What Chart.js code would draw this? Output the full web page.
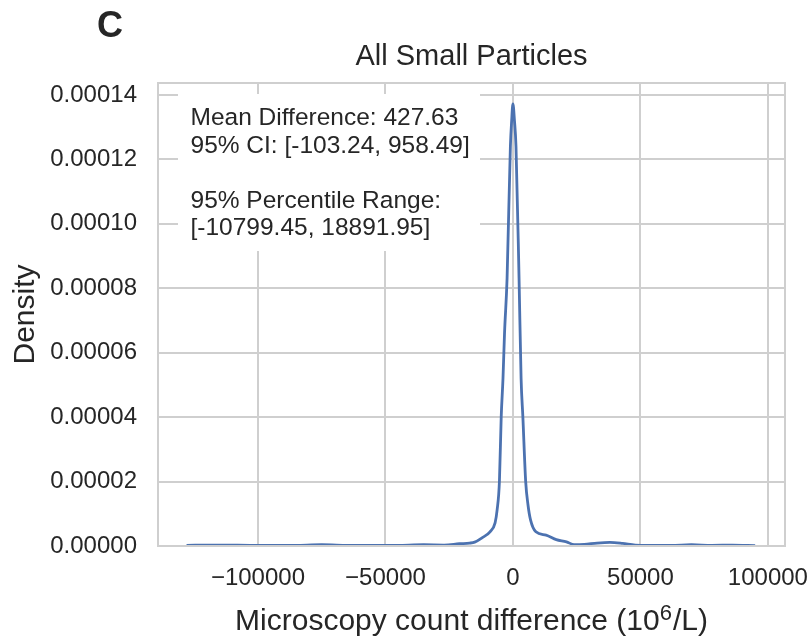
<!DOCTYPE html>
<html>
<head>
<meta charset="utf-8">
<script src="https://cdn.jsdelivr.net/npm/chart.js@4"></script>
<style>
  html, body { margin: 0; padding: 0; background: #ffffff; }
  #wrap { width: 812px; height: 636px; }
</style>
</head>
<body>
<div id="wrap"><canvas id="chart" width="812" height="636"></canvas></div>
<script>
// KDE of microscopy count differences
const DIFFS = [
  -128000, -118000, -108000, -95000, -85000, -75000, -65000, -55000, -45000,
  -35000, -27000, -21000, -17000, -15000, -12000, -9000, -7000, -6200, -5300,
  -4600, -3900, -3300, -2300, -1000, -500, 0, 600, 1200, 2400, 3200, 3900,
  5000, 5900, 6900, 9000, 13000, 17000, 21000, 24000, 28000, 33000, 38000,
  43000, 48000, 55000, 62000, 70000, 78000, 86000, 95000
];
const DENSITY = [
  2e-7, 3e-7, 2.5e-7, 1.5e-7, 2e-7, 4e-7, 2e-7, 1.5e-7, 2e-7,
  4e-7, 3e-7, 7e-7, 9e-7, 1.2e-6, 2.6e-6, 4.4e-6, 7.2e-6, 1.12e-5, 2.0e-5,
  4.0e-5, 5.2e-5, 6.6e-5, 8.3e-5, 1.24e-4, 1.32e-4, 1.372e-4, 1.32e-4, 1.24e-4, 8.3e-5, 5.2e-5, 4.0e-5,
  2.0e-5, 1.28e-5, 8.1e-6, 4.4e-6, 3.4e-6, 2.0e-6, 1.3e-6, 4e-7, 5e-7, 9e-7, 1.1e-6,
  8e-7, 3e-7, 2e-7, 1.5e-7, 4e-7, 2e-7, 2.5e-7, 1e-7
];
const X_TICKS = [-100000, -50000, 0, 50000, 100000];
const Y_TICKS = [0, 0.00002, 0.00004, 0.00006, 0.00008, 0.0001, 0.00012, 0.00014];

const STATS_LINES = [
  "Mean Difference: 427.63",
  "95% CI: [-103.24, 958.49]",
  "",
  "95% Percentile Range:",
  "[-10799.45, 18891.95]"
];

const FONT = "'Liberation Sans', Arial, sans-serif";
const TEXT = "#262626";
const GRID = "#cfcfcf";

const extras = {
  id: "extras",
  afterDraw(c) {
    const ctx = c.ctx;
    const a = c.chartArea;
    ctx.save();
    // axes frame
    ctx.strokeStyle = GRID;
    ctx.lineWidth = 2;
    ctx.strokeRect(a.left, a.top, a.right - a.left, a.bottom - a.top);
    // panel letter
    ctx.fillStyle = TEXT;
    ctx.font = "bold 36px " + FONT;
    ctx.textAlign = "center";
    ctx.textBaseline = "alphabetic";
    ctx.fillText("C", 110, 37);
    // x axis label with a real superscript
    const pre = "Microscopy count difference (10", sup = "6", post = "/L)";
    ctx.font = "30px " + FONT;
    const w1 = ctx.measureText(pre).width, w3 = ctx.measureText(post).width;
    ctx.font = "22px " + FONT;
    const w2 = ctx.measureText(sup).width + 1;
    let x = (a.left + a.right) / 2 - (w1 + w2 + w3) / 2;
    ctx.textAlign = "left";
    ctx.font = "30px " + FONT;
    ctx.fillText(pre, x, 630);
    ctx.font = "22px " + FONT;
    ctx.fillText(sup, x + w1, 620);
    ctx.font = "30px " + FONT;
    ctx.fillText(post, x + w1 + w2, 630);
    // stats box
    ctx.fillStyle = "#ffffff";
    ctx.fillRect(178, 94, 302, 157);
    ctx.fillStyle = TEXT;
    ctx.font = "24.5px " + FONT;
    STATS_LINES.forEach((t, i) => ctx.fillText(t, 190.5, 125 + i * 27.5));
    ctx.restore();
  }
};

const keepTicks = list => scale => {
  scale.ticks = list.map(v => ({ value: v }));
};

new Chart(document.getElementById("chart"), {
  type: "line",
  data: {
    datasets: [{
      data: DIFFS.map((x, i) => ({ x: x, y: DENSITY[i] })),
      borderColor: "#4c72b0",
      borderWidth: 2.8,
      pointRadius: 0,
      fill: false,
      cubicInterpolationMode: "monotone"
    }]
  },
  options: {
    responsive: false,
    animation: false,
    layout: { padding: { left: 0, right: 27, top: 0, bottom: 0 } },
    plugins: {
      legend: { display: false },
      tooltip: { enabled: false },
      title: {
        display: true,
        text: "All Small Particles",
        color: TEXT,
        fullSize: false,
        font: { family: FONT, size: 29, weight: "normal", lineHeight: 1.2 },
        padding: { top: 40, bottom: 8.2 }
      }
    },
    scales: {
      x: {
        type: "linear",
        min: -139200,
        max: 106700,
        afterBuildTicks: keepTicks(X_TICKS),
        afterFit: s => { s.height = 90; s.paddingLeft = 0; s.paddingRight = 0; },
        grid: { color: GRID, lineWidth: 2, drawTicks: false },
        border: { display: false },
        ticks: {
          padding: 18,
          color: TEXT,
          font: { family: FONT, size: 24 },
          maxRotation: 0,
          callback: v => (v < 0 ? "\u2212" + Math.abs(v) : String(v))
        }
      },
      y: {
        min: 0,
        max: 0.0001437,
        afterBuildTicks: keepTicks(Y_TICKS),
        afterFit: s => { s.width = 158; s.paddingTop = 0; s.paddingBottom = 0; },
        grid: { color: GRID, lineWidth: 2, drawTicks: false },
        border: { display: false },
        ticks: {
          padding: 21,
          color: TEXT,
          font: { family: FONT, size: 24 },
          callback: v => v.toFixed(5)
        },
        title: {
          display: true,
          text: "Density",
          color: TEXT,
          font: { family: FONT, size: 30, lineHeight: 1.2 },
          padding: { top: 8, bottom: 0 }
        }
      }
    }
  },
  plugins: [extras]
});
</script>
</body>
</html>
